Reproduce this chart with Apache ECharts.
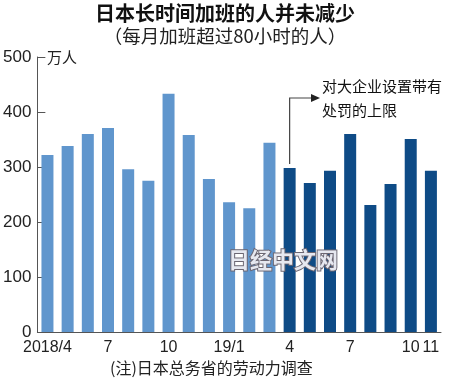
<!DOCTYPE html>
<html><head><meta charset="utf-8">
<script src="https://cdn.jsdelivr.net/npm/echarts@6/dist/echarts.min.js"></script>
<style>html,body{margin:0;padding:0;background:#fff}#c{width:450px;height:387px}</style>
</head><body><div id="c"></div>
<script>
var months = ["2018/4","2018/5","2018/6","2018/7","2018/8","2018/9","2018/10","2018/11","2018/12","2019/1","2019/2","2019/3","2019/4","2019/5","2019/6","2019/7","2019/8","2019/9","2019/10","2019/11"];
var xTickLabels = ["2018/4","","","7","","","10","","","19/1","","","4","","","7","","","10","11"];
var values = [322,338,360,371,296,275,433,358,278,236,225,344,298,271,293,360,231,269,351,293];
var splitIndex = 12;
var yTicks = [0,100,200,300,400,500];
var title = "日本长时间加班的人并未减少";
var subtitle = "（每月加班超过80小时的人）";
var note = "(注)日本总务省的劳动力调查";
var unit = "万人";
var annotation = ["对大企业设置带有","处罚的上限"];
var watermark = "日经中文网";

var LIGHT = "#6096cd", DARK = "#0e4b86";
var cjk = "'Noto Sans CJK SC', sans-serif";
var num = "'Liberation Sans Narrow', 'Liberation Sans', sans-serif";
var chart = echarts.init(document.getElementById('c'), null, {renderer:'canvas'});
var data = values.map(function(v,i){return {value:v, itemStyle:{color: i>=splitIndex?DARK:LIGHT}};});
chart.setOption({
  animation:false,
  grid:{left:36,right:9,top:57,bottom:55},
  xAxis:{type:'category',data:months,boundaryGap:true,
    axisLine:{lineStyle:{color:'#555',width:1}},axisTick:{show:false},
    axisLabel:{interval:0,margin:8,fontFamily:num,fontSize:16,color:'#222',
      formatter:function(v,i){return xTickLabels[i];}}},
  yAxis:{type:'value',min:0,max:500,interval:100,
    axisLine:{show:true,lineStyle:{color:'#555',width:1}},
    axisTick:{show:true,inside:true,length:8,lineStyle:{color:'#555'}},
    splitLine:{show:false},
    axisLabel:{margin:6,fontFamily:num,fontSize:17,color:'#222',
      formatter:function(v){return yTicks.indexOf(v)>=0?String(v):'';}}},
  series:[{type:'bar',data:data,barWidth:12}]
});
var p = chart.convertToPixel({xAxisIndex:0,yAxisIndex:0},[splitIndex, values[splitIndex]]);
var ax = p[0], ay = p[1]-4;
var turnY = 98, endX = 319;
chart.setOption({graphic:[
  {type:'text',left:'center',top:3,style:{text:title,font:"bold 20px "+cjk,fill:'#111'}},
  {type:'text',left:'center',top:27,style:{text:subtitle,font:"18.5px "+cjk,fill:'#222'}},
  {type:'text',left:110,top:360,style:{text:note,font:"16px "+cjk,fill:'#222'}},
  {type:'text',left:47,top:50,style:{text:unit,font:"15px "+cjk,fill:'#222'}},
  {type:'polyline',shape:{points:[[ax,ay],[ax,turnY],[endX-6,turnY]]},style:{stroke:'#444',lineWidth:1.2,fill:null}},
  {type:'polygon',shape:{points:[[endX-8,turnY-4],[endX+1,turnY],[endX-8,turnY+4]]},style:{fill:'#222'}},
  {type:'text',x:322,y:79,style:{text:annotation[0],font:"15px "+cjk,fill:'#111'}},
  {type:'text',x:322,y:103,style:{text:annotation[1],font:"15px "+cjk,fill:'#111'}},
  {type:'text',x:228,y:249,z:100,style:{text:watermark,font:"bold 22px "+cjk,fill:'#e6e8f0',stroke:'#6b6672',lineWidth:2}}
]});
</script></body></html>
